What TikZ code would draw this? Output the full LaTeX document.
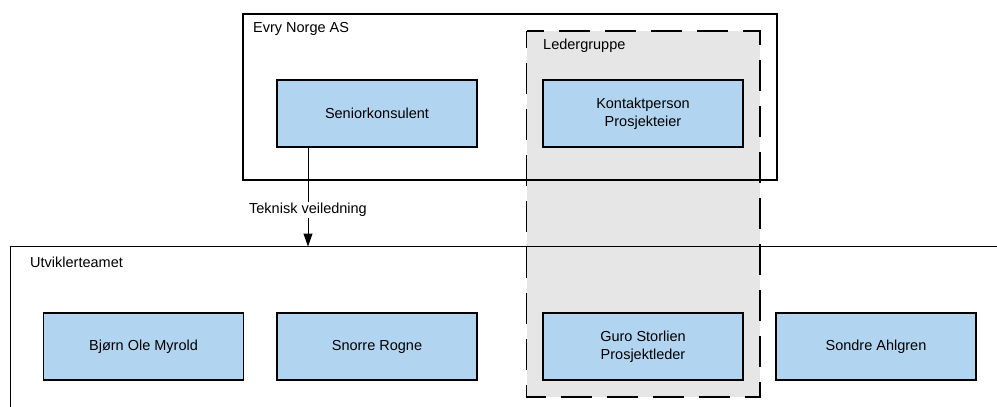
\documentclass[tikz,border=0pt]{standalone}
\usepackage{fontspec}
\setmainfont{Liberation Sans}
\usetikzlibrary{arrows.meta}

\definecolor{memberblue}{RGB}{177,213,240}
\definecolor{groupgray}{RGB}{230,230,230}

\begin{document}
\begin{tikzpicture}[x=1pt, y=-1pt, font=\fontsize{14.5}{18}\selectfont,
  member/.style={draw, line width=1.4pt, fill=memberblue, minimum width=200pt,
                 minimum height=67pt, align=center, inner sep=0pt},
  frame/.style={draw, line width=1.4pt},
  caption/.style={anchor=west, inner sep=0pt}]
  % Page size.
  \useasboundingbox (0,0) rectangle (997,407);
  \clip (0,0) rectangle (997,407);
  % Ledergruppe: dashed gray band across both teams.
  \draw[frame, fill=groupgray, dash pattern=on 31pt off 15pt, dash phase=14pt]
    (526.5,31) rectangle (760,397);
  \node[caption] (leder) at (543,46) {Ledergruppe};
  % Evry Norge AS.
  \draw[frame] (243,14) rectangle (777,180);
  \node[caption] (evry) at (253,29) {Evry Norge AS};
  % Utviklerteamet (runs off the page to the right and below).
  \draw[frame] (10.5,246.5) rectangle (1010,430);
  \node[caption] (utv) at (30,262) {Utviklerteamet};
  \coordinate (utvtop) at (308,246.5);
  % Members.
  \node[member] (senior)  at (377,113.5) {Seniorkonsulent};
  \node[member] (kontakt) at (643,113.5) {Kontaktperson\\Prosjekteier};
  \node[member] (bjorn)   at (143.5,346.5) {Bjørn Ole Myrold};
  \node[member] (snorre)  at (377,346.5) {Snorre Rogne};
  \node[member] (guro)    at (643,346.5) {Guro Storlien\\Prosjektleder};
  \node[member] (sondre)  at (876,346.5) {Sondre Ahlgren};
  % Guidance arrow.
  \draw[-{Triangle[length=13pt,width=9pt]}, line width=1pt]
    (utvtop |- senior.south) -- node[pos=0.63, fill=white, inner sep=1.5pt] (veil) {Teknisk veiledning} (utvtop);
\end{tikzpicture}
\end{document}
